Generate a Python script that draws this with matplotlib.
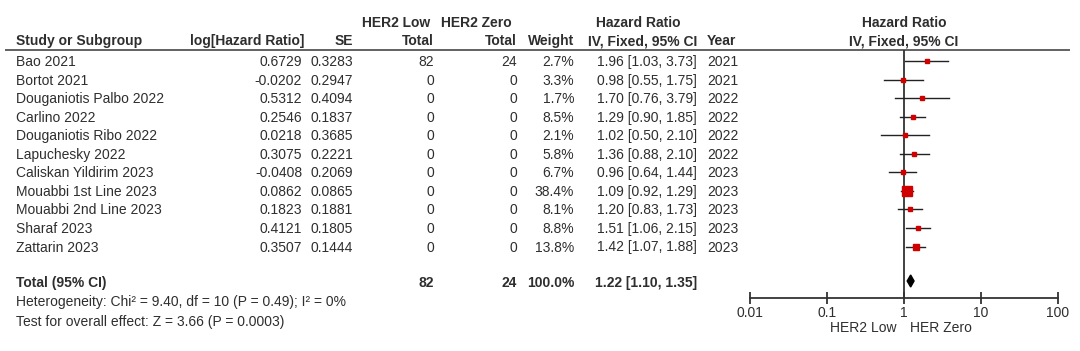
import matplotlib
matplotlib.use("Agg")
import matplotlib.pyplot as plt
import numpy as np

# ---------------- data ----------------
studies = ["Bao 2021", "Bortot 2021", "Douganiotis Palbo 2022", "Carlino 2022",
           "Douganiotis Ribo 2022", "Lapuchesky 2022", "Caliskan Yildirim 2023",
           "Mouabbi 1st Line 2023", "Mouabbi 2nd Line 2023", "Sharaf 2023", "Zattarin 2023"]
log_hr = ["0.6729", "-0.0202", "0.5312", "0.2546", "0.0218", "0.3075", "-0.0408",
          "0.0862", "0.1823", "0.4121", "0.3507"]
se = ["0.3283", "0.2947", "0.4094", "0.1837", "0.3685", "0.2221", "0.2069",
      "0.0865", "0.1881", "0.1805", "0.1444"]
her2_low_total = [82, 0, 0, 0, 0, 0, 0, 0, 0, 0, 0]
her2_zero_total = [24, 0, 0, 0, 0, 0, 0, 0, 0, 0, 0]
weight = [2.7, 3.3, 1.7, 8.5, 2.1, 5.8, 6.7, 38.4, 8.1, 8.8, 13.8]
hr = [1.96, 0.98, 1.70, 1.29, 1.02, 1.36, 0.96, 1.09, 1.20, 1.51, 1.42]
hr_lo = [1.03, 0.55, 0.76, 0.90, 0.50, 0.88, 0.64, 0.92, 0.83, 1.06, 1.07]
hr_hi = [3.73, 1.75, 3.79, 1.85, 2.10, 2.10, 1.44, 1.29, 1.73, 2.15, 1.88]
years = [2021, 2021, 2022, 2022, 2022, 2022, 2023, 2023, 2023, 2023, 2023]

total_low, total_zero = 82, 24
total_weight = 100.0
total_hr, total_lo, total_hi = 1.22, 1.10, 1.35
heterogeneity = "Heterogeneity: Chi² = 9.40, df = 10 (P = 0.49); I² = 0%"
overall = "Test for overall effect: Z = 3.66 (P = 0.0003)"
axis_ticks = [0.01, 0.1, 1, 10, 100]
axis_ticklabels = ["0.01", "0.1", "1", "10", "100"]
favours_left, favours_right = "HER2 Low", "HER Zero"

# ---------------- layout ----------------
plt.rcParams['font.family'] = ['Liberation Sans', 'DejaVu Sans']
TC = '#2e2e2e'
FS = 10
W, H = 1080, 351
fig = plt.figure(figsize=(10.8, 3.51), dpi=100)
fig.patch.set_facecolor('white')
ax = fig.add_axes([0, 0, 1, 1])
ax.set_xlim(0, W)
ax.set_ylim(H, 0)
ax.axis('off')

y0, dy = 62, 18.55
rows_y = y0 + dy * np.arange(len(studies))
y_total = 283
y_het = 302
y_test = 322
y_h1, y_h2 = 23, 41
y_rule = 49.5

x_study = 16
x_log = 304
x_se = 353
x_low = 434
x_zero = 517
x_w = 574
x_ci_l = 596
x_ci_r = 697
x_year = 707


def t(x, y, s, ha='left', bold=False, **kw):
    ax.text(x, y, s, ha=ha, va='center', fontsize=FS, color=TC,
            fontweight='bold' if bold else 'normal', **kw)


# headers
t(362, y_h1, "HER2 Low", bold=True)
t(441, y_h1, "HER2 Zero", bold=True)
t(x_ci_l, y_h1, "Hazard Ratio", bold=True)
t(x_study, y_h2, "Study or Subgroup", bold=True)
t(x_log, y_h2, "log[Hazard Ratio]", ha='right', bold=True)
t(x_se, y_h2, "SE", ha='right', bold=True)
t(x_low, y_h2, "Total", ha='right', bold=True)
t(x_zero, y_h2, "Total", ha='right', bold=True)
t(x_w, y_h2, "Weight", ha='right', bold=True)
t(x_ci_r, y_h2, "IV, Fixed, 95% CI", ha='right', bold=True)
t(x_year, y_h2, "Year", bold=True)
t(904, y_h1, "Hazard Ratio", ha='center', bold=True)
t(904, y_h2, "IV, Fixed, 95% CI", ha='center', bold=True)
ax.plot([5, 1070], [y_rule, y_rule], color='#555555', lw=1.3, solid_capstyle='butt')

# rows
for i, name in enumerate(studies):
    y = rows_y[i]
    t(x_study, y, name)
    t(x_log - 2, y, log_hr[i], ha='right')
    t(x_se, y, se[i], ha='right')
    t(x_low, y, str(her2_low_total[i]), ha='right')
    t(x_zero, y, str(her2_zero_total[i]), ha='right')
    t(x_w, y, f"{weight[i]:.1f}%", ha='right')
    t(x_ci_r, y, f"{hr[i]:.2f} [{hr_lo[i]:.2f}, {hr_hi[i]:.2f}]", ha='right')
    t(x_year, y, str(years[i]))

# total
t(x_study, y_total, "Total (95% CI)", bold=True)
t(x_low, y_total, str(total_low), ha='right', bold=True)
t(x_zero, y_total, str(total_zero), ha='right', bold=True)
t(x_w, y_total, f"{total_weight:.1f}%", ha='right', bold=True)
t(x_ci_r, y_total, f"{total_hr:.2f} [{total_lo:.2f}, {total_hi:.2f}]", ha='right', bold=True)
t(x_study, y_het, heterogeneity)
t(x_study, y_test, overall)

# ---------------- forest ----------------
ax_top, ax_bot = 50, 298
fa = fig.add_axes([750 / W, (H - ax_bot) / H, 308 / W, (ax_bot - ax_top) / H])
fa.set_xscale('log')
fa.set_xlim(axis_ticks[0], axis_ticks[-1])
fa.set_ylim(ax_bot, ax_top)
fa.patch.set_alpha(0)
for s in ['top', 'left', 'right']:
    fa.spines[s].set_visible(False)
fa.spines['bottom'].set_color('#333333')
fa.spines['bottom'].set_linewidth(1.3)
fa.set_yticks([])
fa.set_xticks(axis_ticks)
fa.set_xticklabels(axis_ticklabels)
fa.xaxis.set_minor_locator(matplotlib.ticker.NullLocator())
fa.tick_params(axis='x', direction='inout', length=8, width=1.3, color='#333333',
               labelsize=FS, labelcolor=TC, pad=2)
fa.axvline(1, color='#333333', lw=1.3, zorder=1)

for i in range(len(studies)):
    y = rows_y[i] - 1
    fa.plot([hr_lo[i], hr_hi[i]], [y, y], color='#222222', lw=1.0, zorder=2)
    ms = max(2.3, 1.18 * np.sqrt(weight[i]))
    fa.plot([hr[i]], [y], marker='s', ms=ms, color='#d00000', mec='#d00000',
            linestyle='none', zorder=3)

yd = y_total - 2
dh = 6
fa.fill([total_lo, total_hr, total_hi, total_hr], [yd, yd - dh, yd, yd + dh],
        color='black', zorder=3)

ax.text(896, 328, favours_left, ha='right', va='center', fontsize=FS, color=TC)
ax.text(910, 328, favours_right, ha='left', va='center', fontsize=FS, color=TC)

fig.savefig("out.png", dpi=100, facecolor='white')
